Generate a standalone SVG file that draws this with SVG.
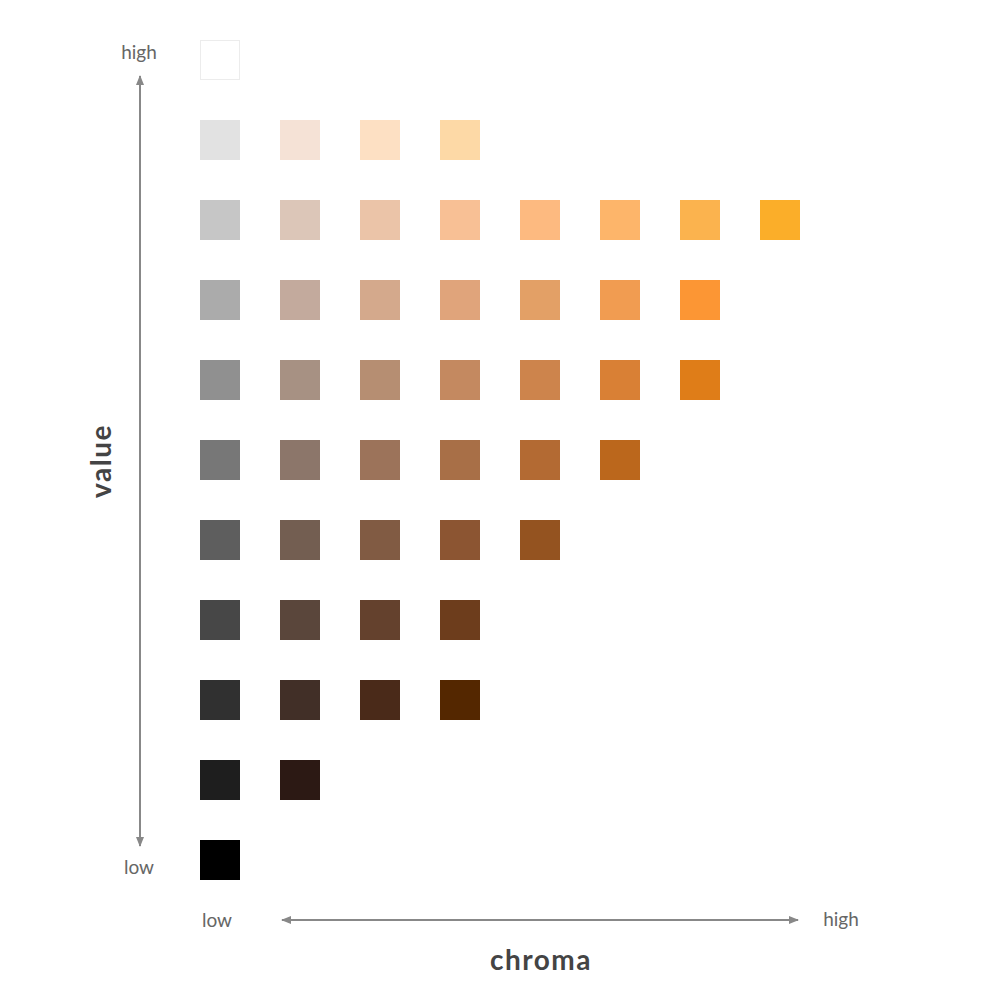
<svg xmlns="http://www.w3.org/2000/svg" width="1000" height="1000" viewBox="0 0 1000 1000">
<defs>
<marker id="ah" viewBox="0 0 10 10" refX="9" refY="5" markerWidth="5" markerHeight="5" orient="auto-start-reverse" markerUnits="strokeWidth">
<path d="M0,1 L10,5 L0,9 z" fill="#888"/>
</marker>
<style>
.lbl{font-family:Lato,"Open Sans",sans-serif;font-size:19px;fill:#666;text-anchor:middle}
.ttl{font-family:Lato,"Open Sans",sans-serif;font-size:28px;font-weight:bold;fill:#444;text-anchor:middle;letter-spacing:1.5px}
.ax{stroke:#888;stroke-width:2;fill:none}
</style>
</defs>
<rect width="1000" height="1000" fill="#fff"/>
<g id="axes">
<line class="ax" x1="140" y1="76" x2="140" y2="846" marker-start="url(#ah)" marker-end="url(#ah)"/>
<line class="ax" x1="282" y1="920" x2="798" y2="920" marker-start="url(#ah)" marker-end="url(#ah)"/>
</g>
<g id="labels">
<text class="lbl" x="139" y="59">high</text>
<text class="lbl" x="139" y="874">low</text>
<text class="lbl" x="217" y="927">low</text>
<text class="lbl" x="841" y="926">high</text>
<text class="ttl" x="541" y="970">chroma</text>
<text class="ttl" transform="translate(111,461) rotate(-90)">value</text>
</g>
<g id="swatches">
<rect x="200.5" y="40.5" width="39" height="39" fill="#fff" stroke="#ececec"/>
<rect x="200" y="120" width="40" height="40" fill="#e2e2e2"/>
<rect x="280" y="120" width="40" height="40" fill="#f5e2d6"/>
<rect x="360" y="120" width="40" height="40" fill="#fde0c3"/>
<rect x="440" y="120" width="40" height="40" fill="#fdd9a6"/>
<rect x="200" y="200" width="40" height="40" fill="#c6c6c6"/>
<rect x="280" y="200" width="40" height="40" fill="#dcc6b8"/>
<rect x="360" y="200" width="40" height="40" fill="#ebc4a8"/>
<rect x="440" y="200" width="40" height="40" fill="#f8c095"/>
<rect x="520" y="200" width="40" height="40" fill="#fdba80"/>
<rect x="600" y="200" width="40" height="40" fill="#fdb56a"/>
<rect x="680" y="200" width="40" height="40" fill="#fbb34e"/>
<rect x="760" y="200" width="40" height="40" fill="#fbae29"/>
<rect x="200" y="280" width="40" height="40" fill="#ababab"/>
<rect x="280" y="280" width="40" height="40" fill="#c3aa9d"/>
<rect x="360" y="280" width="40" height="40" fill="#d4a98c"/>
<rect x="440" y="280" width="40" height="40" fill="#e0a47b"/>
<rect x="520" y="280" width="40" height="40" fill="#e3a066"/>
<rect x="600" y="280" width="40" height="40" fill="#f19c51"/>
<rect x="680" y="280" width="40" height="40" fill="#fc9634"/>
<rect x="200" y="360" width="40" height="40" fill="#909090"/>
<rect x="280" y="360" width="40" height="40" fill="#a79183"/>
<rect x="360" y="360" width="40" height="40" fill="#b68e72"/>
<rect x="440" y="360" width="40" height="40" fill="#c48960"/>
<rect x="520" y="360" width="40" height="40" fill="#cd844c"/>
<rect x="600" y="360" width="40" height="40" fill="#d98035"/>
<rect x="680" y="360" width="40" height="40" fill="#df7d18"/>
<rect x="200" y="440" width="40" height="40" fill="#777777"/>
<rect x="280" y="440" width="40" height="40" fill="#8c766a"/>
<rect x="360" y="440" width="40" height="40" fill="#9c735a"/>
<rect x="440" y="440" width="40" height="40" fill="#a86f47"/>
<rect x="520" y="440" width="40" height="40" fill="#b36a33"/>
<rect x="600" y="440" width="40" height="40" fill="#bb671c"/>
<rect x="200" y="520" width="40" height="40" fill="#5e5e5e"/>
<rect x="280" y="520" width="40" height="40" fill="#735e51"/>
<rect x="360" y="520" width="40" height="40" fill="#815b43"/>
<rect x="440" y="520" width="40" height="40" fill="#8c5532"/>
<rect x="520" y="520" width="40" height="40" fill="#945320"/>
<rect x="200" y="600" width="40" height="40" fill="#474747"/>
<rect x="280" y="600" width="40" height="40" fill="#5a463b"/>
<rect x="360" y="600" width="40" height="40" fill="#64412d"/>
<rect x="440" y="600" width="40" height="40" fill="#6d3d1c"/>
<rect x="200" y="680" width="40" height="40" fill="#303030"/>
<rect x="280" y="680" width="40" height="40" fill="#412f27"/>
<rect x="360" y="680" width="40" height="40" fill="#4a2a19"/>
<rect x="440" y="680" width="40" height="40" fill="#542700"/>
<rect x="200" y="760" width="40" height="40" fill="#1e1e1e"/>
<rect x="280" y="760" width="40" height="40" fill="#2c1914"/>
<rect x="200" y="840" width="40" height="40" fill="#000000"/>
</g>
</svg>
